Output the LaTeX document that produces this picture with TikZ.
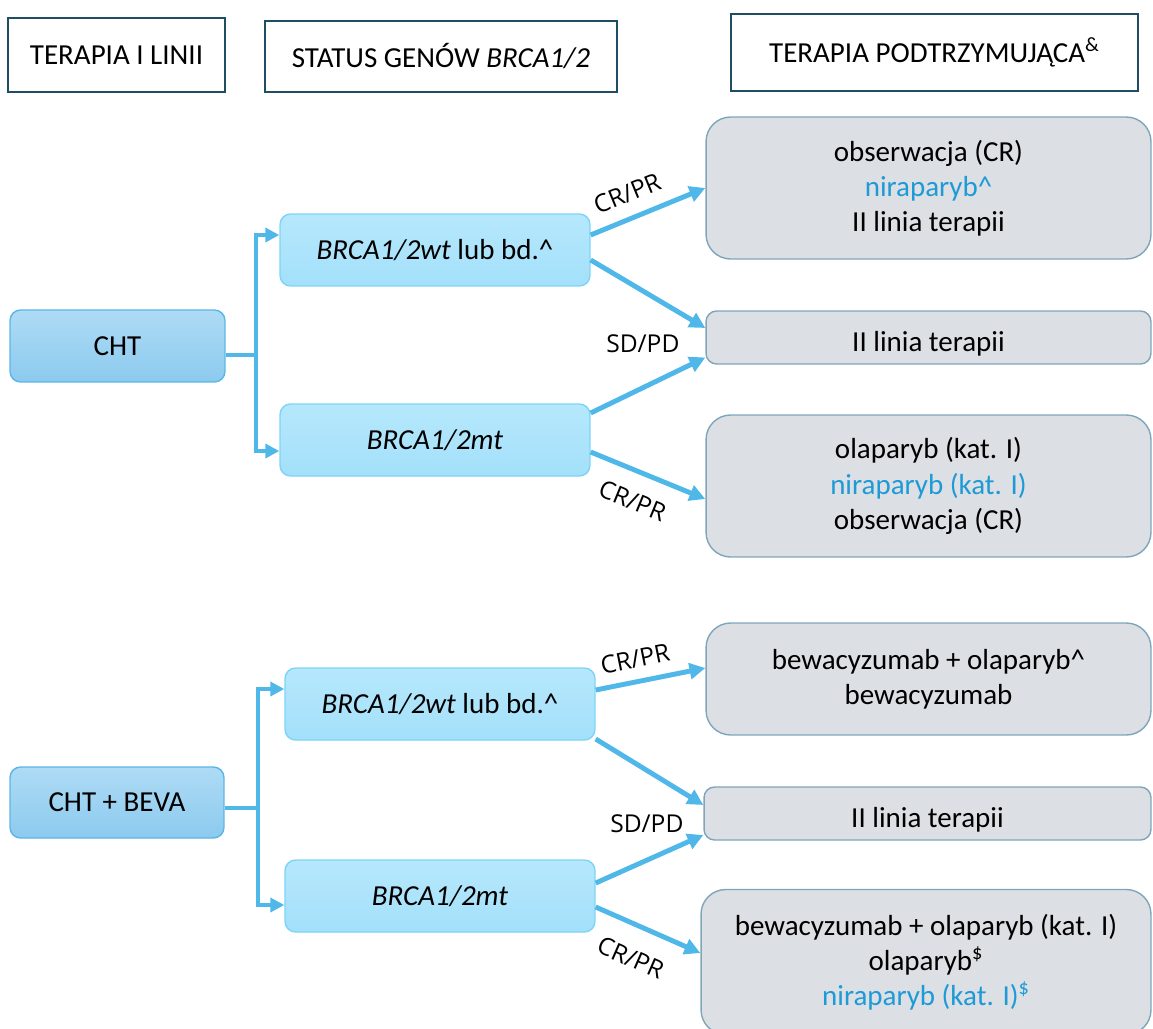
\documentclass[tikz,border=0pt]{standalone}
\usepackage{fontspec}
\setmainfont{Carlito}
\newfontfamily\lblfont{Open Sans}
\usetikzlibrary{arrows.meta}
\definecolor{hdrline}{RGB}{31,78,99}
\definecolor{arrblue}{RGB}{79,184,232}
\definecolor{chttop}{RGB}{174,219,245}
\definecolor{chtbot}{RGB}{140,202,238}
\definecolor{chtline}{RGB}{90,182,230}
\definecolor{brcatop}{RGB}{182,232,252}
\definecolor{brcabot}{RGB}{163,224,250}
\definecolor{brcaline}{RGB}{125,212,248}
\definecolor{grayfill}{RGB}{220,223,227}
\definecolor{grayline}{RGB}{127,165,187}
\definecolor{nirablue}{RGB}{30,154,214}

\begin{document}
\begin{tikzpicture}[
  x=0.02cm, y=-0.02cm,
  font=\fontsize{16.5}{20}\selectfont,
  hdr/.style={rectangle, draw=hdrline, line width=1.2pt, fill=white, align=center},
  therapy/.style={rectangle, rounded corners=6pt, draw=chtline, line width=0.8pt,
                  top color=chttop, bottom color=chtbot, minimum width=4.3cm, minimum height=1.44cm},
  gene/.style={rectangle, rounded corners=6pt, draw=brcaline, line width=0.8pt,
               top color=brcatop, bottom color=brcabot, minimum width=6.2cm, minimum height=1.44cm},
  maint/.style={rectangle, rounded corners=14pt, draw=grayline, line width=0.8pt, fill=grayfill,
                align=center, minimum width=8.9cm},
  second/.style={maint, rounded corners=6pt, minimum height=1.06cm, text height=18pt, text depth=2.6pt},
  split/.style={draw=arrblue, line width=2.2pt},
  splitarr/.style={split, -{Triangle[length=8pt,width=8pt]}},
  resp/.style={draw=arrblue, line width=2.8pt, -{Triangle[length=9pt,width=9pt]}},
  lbl/.style={font=\lblfont\fontsize{14}{16}\selectfont, inner sep=2pt},
]
\useasboundingbox (0,0) rectangle (1153,1028);

% column headers
\node[hdr, minimum width=4.34cm, minimum height=1.48cm] (hdrI)     at (116.5,55)  {TERAPIA I LINII};
\node[hdr, minimum width=7.04cm, minimum height=1.42cm] (hdrBRCA)  at (441,56.5)  {STATUS GENÓW \textit{BRCA1/2}};
\node[hdr, minimum width=8.14cm, minimum height=1.54cm] (hdrMaint) at (934.5,52.5) {TERAPIA PODTRZYMUJĄCA\textsuperscript{\&}};

% CHT branch
\node[therapy] (cht) at (117.5,346) {CHT};
\node[gene] (wtA) at (435,250) {\textit{BRCA1/2wt} lub bd.\textasciicircum};
\node[gene] (mtA) at (435,440) {\textit{BRCA1/2mt}};
\node[maint, minimum height=2.84cm] (obsA) at (928.5,188)
  {obserwacja (CR)\\\textcolor{nirablue}{niraparyb\textasciicircum}\\II linia terapii};
\node[second] (secA) at (928.5,337.5) {II linia terapii};
\node[maint, minimum height=2.84cm] (olaA) at (928.5,486)
  {olaparyb (kat. I)\\\textcolor{nirablue}{niraparyb (kat. I)}\\obserwacja (CR)};

% CHT + BEVA branch
\node[therapy, minimum width=4.28cm, minimum height=1.42cm] (bevaCHT) at (117,802.5) {CHT + BEVA};
\node[gene] (wtB) at (440,704) {\textit{BRCA1/2wt} lub bd.\textasciicircum};
\node[gene] (mtB) at (440,896) {\textit{BRCA1/2mt}};
\node[maint, minimum height=2.24cm] (bevB) at (928.5,679)
  {bewacyzumab + olaparyb\textasciicircum\\bewacyzumab};
\node[second, minimum width=8.94cm] (secB) at (927.5,813.5) {II linia terapii};
\node[maint, minimum width=9cm, minimum height=2.9cm] (olaB) at (926,962)
  {bewacyzumab + olaparyb (kat. I)\\olaparyb\textsuperscript{\$}\\\textcolor{nirablue}{niraparyb (kat. I)\textsuperscript{\$}}};

% forks
\draw[split] ([yshift=-0.18cm]cht.east) -- ++(30,0) coordinate (forkA);
\draw[splitarr] (forkA) |- ([yshift=0.3cm]wtA.west);
\draw[splitarr] (forkA) |- ([yshift=-0.22cm]mtA.west);
\draw[split] ([yshift=-0.11cm]bevaCHT.east) -- ++(33,0) coordinate (forkB);
\draw[splitarr] (forkB) |- ([yshift=0.3cm]wtB.west);
\draw[splitarr] (forkB) |- ([yshift=-0.18cm]mtB.west);

% responses
\draw[resp] ([yshift=0.3cm]wtA.east) -- node[lbl, sloped, above=5.5pt, pos=0.4] (crA1) {CR/PR} (obsA.west);
\draw[resp] ([yshift=-0.2cm]wtA.east) -- ([yshift=0.19cm]secA.west);
\draw[resp] ([yshift=0.54cm]mtA.east) -- ([yshift=-0.4cm]secA.west);
\draw[resp] ([yshift=-0.24cm]mtA.east) -- node[lbl, sloped, below=8pt, pos=0.46] (crA2) {CR/PR} ([yshift=-0.26cm]olaA.west);
\node[lbl, anchor=east] (sdA) at ([xshift=-0.44cm,yshift=-0.12cm]secA.west) {SD/PD};

\draw[resp] ([yshift=0.28cm]wtB.east) -- node[lbl, sloped, above=4.5pt, pos=0.4] (crB1) {CR/PR} ([yshift=0.22cm]bevB.west);
\draw[resp] ([yshift=-0.7cm]wtB.east) -- ([yshift=0.17cm]secB.west);
\draw[resp] ([yshift=0.26cm]mtB.east) -- ([yshift=-0.43cm]secB.west);
\draw[resp] ([yshift=-0.22cm]mtB.east) -- node[lbl, sloped, below=10pt, pos=0.46] (crB2) {CR/PR} ([yshift=0.18cm]olaB.west);
\node[lbl, anchor=east] (sdB) at ([xshift=-0.32cm,yshift=-0.2cm]secB.west) {SD/PD};

\end{tikzpicture}
\end{document}
